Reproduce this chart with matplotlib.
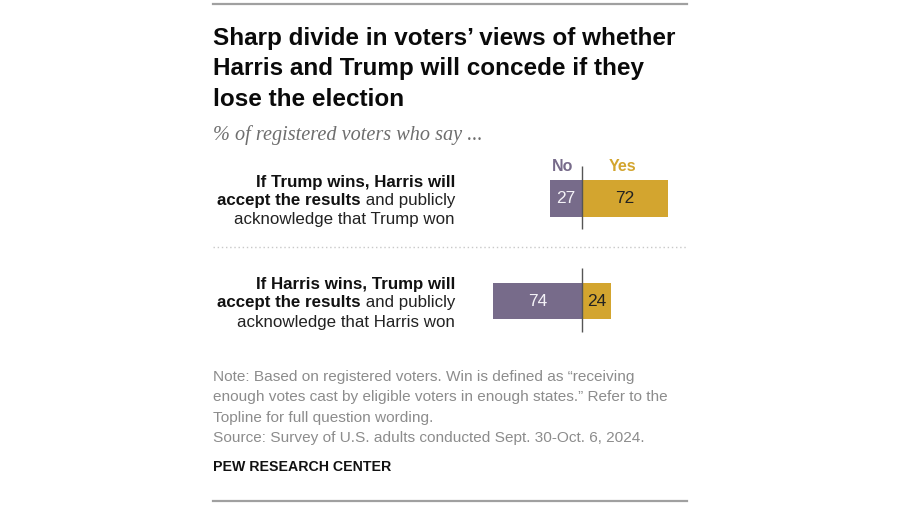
import matplotlib
matplotlib.use("Agg")
import matplotlib.pyplot as plt

# data
questions = [
    ("If Trump wins, Harris will", "accept the results", " and publicly", "acknowledge that Trump won"),
    ("If Harris wins, Trump will", "accept the results", " and publicly", "acknowledge that Harris won"),
]
no_vals = [27, 74]
yes_vals = [72, 24]

title_lines = ["Sharp divide in voters\u2019 views of whether",
               "Harris and Trump will concede if they",
               "lose the election"]
subtitle = "% of registered voters who say ..."
note_lines = ["Note: Based on registered voters. Win is defined as \u201creceiving",
              "enough votes cast by eligible voters in enough states.\u201d Refer to the",
              "Topline for full question wording.",
              "Source: Survey of U.S. adults conducted Sept. 30-Oct. 6, 2024."]
credit = "PEW RESEARCH CENTER"

NO_COLOR = "#776b8a"
YES_COLOR = "#d3a52f"
W, H = 900, 505

plt.rcParams["font.family"] = ["Liberation Sans", "DejaVu Sans"]
fig = plt.figure(figsize=(W / 100, H / 100), dpi=100)


def fx(x):
    return x / W


def fy(y):
    return 1 - y / H


# rules
fig.add_artist(plt.Line2D([fx(213), fx(687)], [fy(4), fy(4)], color="#a0a0a0", lw=1.6))
fig.add_artist(plt.Line2D([fx(213), fx(687)], [fy(501), fy(501)], color="#a0a0a0", lw=1.6))
fig.add_artist(plt.Line2D([fx(213), fx(687)], [fy(247), fy(247)], color="#c8c8c8", lw=1,
                          linestyle=(0, (1, 2))))

# title
for k, line in enumerate(title_lines):
    fig.text(fx(213), fy(45 + k * 30.5), line, fontsize=17.5, fontweight="bold",
             color="#0a0a0a", va="baseline", ha="left")
fig.text(fx(213), fy(140), subtitle, fontsize=14.6, style="italic", color="#6e6e6e",
         family=["Liberation Serif", "DejaVu Serif"], va="baseline", ha="left")

# bars
ax = fig.add_axes([fx(470), fy(345), fx(686) - fx(470), fy(150) - fy(345)])
ax.set_xlim(-(582 - 470) / 1.2, (686 - 582) / 1.2)
ax.set_ylim(1.429, -0.473)
ax.axis("off")
ypos = list(range(len(no_vals)))
ax.barh(ypos, [-v for v in no_vals], height=0.356, color=NO_COLOR)
ax.barh(ypos, yes_vals, height=0.356, color=YES_COLOR)
for i in ypos:
    ax.vlines(0, i - 0.32, i + 0.30, color="#555555", lw=1)
    ax.text(-no_vals[i] / 2, i, str(no_vals[i]), ha="center", va="center",
            fontsize=12.5, color="#f4f2f7")
    ax.text(yes_vals[i] / 2, i, str(yes_vals[i]), ha="center", va="center",
            fontsize=12.5, color="#222222")
ax.text(-16.5, -0.31, "No", ha="center", va="center", fontsize=11.5,
        fontweight="bold", color=NO_COLOR)
ax.text(34, -0.31, "Yes", ha="center", va="center", fontsize=11.5,
        fontweight="bold", color=YES_COLOR)

# question labels
for i, (l1, l2b, l2r, l3) in enumerate(questions):
    yc = 201 + i * 102
    fig.text(fx(455), fy(yc - 19), l1, ha="right", va="center", fontsize=12.2,
             fontweight="bold", color="#111111")
    t = fig.text(fx(455), fy(yc), l2r, ha="right", va="center", fontsize=12.2,
                 color="#222222")
    ax.annotate(l2b, xy=(0, 0.5), xycoords=t, ha="right", va="center",
                fontsize=12.2, fontweight="bold", color="#111111",
                annotation_clip=False)
    fig.text(fx(455), fy(yc + 19), l3, ha="right", va="center", fontsize=12.2,
             color="#222222")

# notes
for k, line in enumerate(note_lines):
    fig.text(fx(213), fy(377 + k * 20.3), line, ha="left", va="center",
             fontsize=11.1, color="#8c8c8c")
fig.text(fx(213), fy(467), credit, ha="left", va="center", fontsize=10.2,
         fontweight="bold", color="#111111")

fig.savefig("out.png", dpi=100)
